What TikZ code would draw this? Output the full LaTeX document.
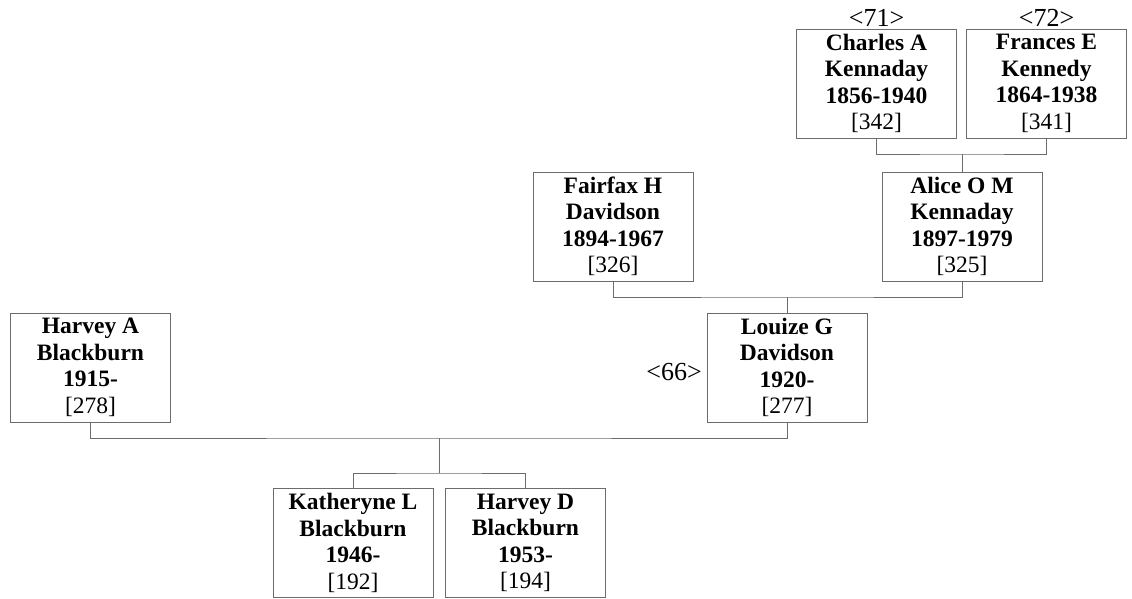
\documentclass[tikz,border=0pt]{standalone}
\usepackage{fontspec}
\setmainfont{Liberation Serif}
\usepackage{xcolor}

\begin{document}
\begin{tikzpicture}[x=1pt, y=-1pt,
    box/.style={rectangle, draw=gray!85!black, line width=0.9pt, minimum width=160pt, minimum height=109pt, inner sep=0pt, align=center, font=\fontsize{23.5}{26.5}\selectfont},
    link/.style={draw=gray!85!black, line width=0.8pt},
    tag/.style={font=\fontsize{26}{28}\selectfont, inner sep=0pt}]

    \useasboundingbox (0,0) rectangle (1132,599);

    % Grandparents
    \node[box] (charles) at (876.5,83.5) {\textbf{Charles A}\\\textbf{Kennaday}\\\textbf{1856-1940}\\{}[342]};
    \node[box] (frances) at (1046.5,83.5) {\textbf{Frances E}\\\textbf{Kennedy}\\\textbf{1864-1938}\\{}[341]};
    \node[tag] (t71) at (876.5,18) {<71>};
    \node[tag] (t72) at (1046.5,18) {<72>};

    % Parents
    \node[box] (fairfax) at (613,226.5) {\textbf{Fairfax H}\\\textbf{Davidson}\\\textbf{1894-1967}\\{}[326]};
    \node[box] (alice) at (962,226.5) {\textbf{Alice O M}\\\textbf{Kennaday}\\\textbf{1897-1979}\\{}[325]};

    % Couple
    \node[box] (harveya) at (90.5,367.5) {\textbf{Harvey A}\\\textbf{Blackburn}\\\textbf{1915-}\\{}[278]};
    \node[box] (louize) at (787,367.5) {\textbf{Louize G}\\\textbf{Davidson}\\\textbf{1920-}\\{}[277]};
    \node[tag, anchor=east] (t66) at (702,372) {<66>};

    % Children
    \node[box] (katheryne) at (353,543) {\textbf{Katheryne L}\\\textbf{Blackburn}\\\textbf{1946-}\\{}[192]};
    \node[box] (harveyd) at (525.5,543) {\textbf{Harvey D}\\\textbf{Blackburn}\\\textbf{1953-}\\{}[194]};

    % Junctions
    \coordinate (jtop) at (962,154);
    \coordinate (jmid) at (787,297);
    \coordinate (jlow) at (439,438);
    \coordinate (jkid) at (439,473);

    % Lines
    \draw[link] (charles.south) |- (jtop) -| (frances.south);
    \draw[link] (jtop) -- (alice.north);
    \draw[link] (fairfax.south) |- (jmid) -| (alice.south);
    \draw[link] (jmid) -- (louize.north);
    \draw[link] (harveya.south) |- (jlow) -| (louize.south);
    \draw[link] (jlow) -- (jkid);
    \draw[link] (katheryne.north) |- (jkid) -| (harveyd.north);
\end{tikzpicture}
\end{document}
